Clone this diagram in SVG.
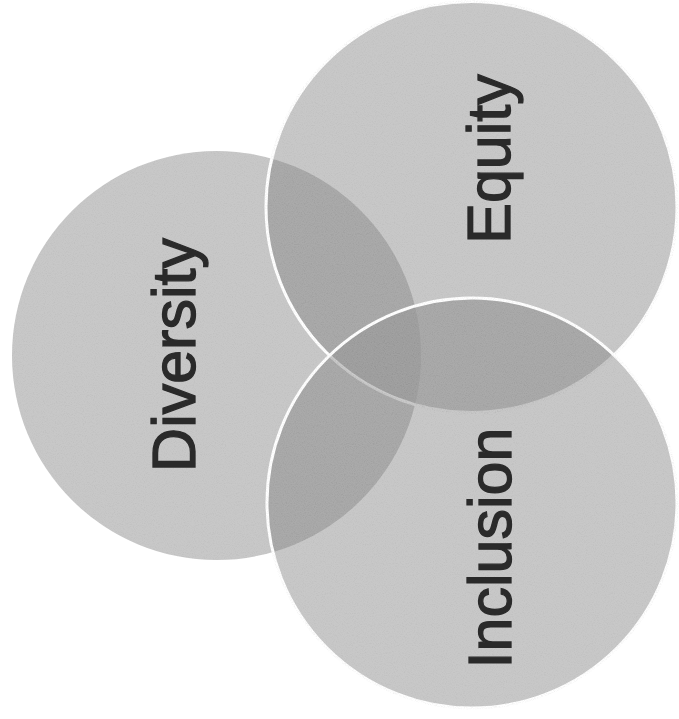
<svg xmlns="http://www.w3.org/2000/svg" width="679" height="719" viewBox="0 0 679 719">
  <style>
    .circ { fill: #868686; fill-opacity: 0.455; filter: url(#grain); }
    .edge { stroke: #ffffff; stroke-width: 3; }
    .label { font-family: "Liberation Sans", Arial, sans-serif; font-size: 61px; fill: #2a2a2a; stroke: #2a2a2a; stroke-width: 1.3; text-anchor: middle; }
  </style>
  <defs>
    <filter id="grain" x="-5%" y="-5%" width="110%" height="110%">
      <feTurbulence type="fractalNoise" baseFrequency="0.9" numOctaves="2" seed="7" result="noise"/>
      <feColorMatrix in="noise" type="matrix" values="0 0 0 0 0  0 0 0 0 0  0 0 0 0 0  0.3 0 0 0 -0.12" result="dark"/>
      <feComposite in="dark" in2="SourceGraphic" operator="in" result="darkIn"/>
      <feMerge>
        <feMergeNode in="SourceGraphic"/>
        <feMergeNode in="darkIn"/>
      </feMerge>
    </filter>
    <clipPath id="clipE"><circle cx="471.5" cy="207" r="205.5"/></clipPath>
    <clipPath id="clipI"><circle cx="472" cy="503" r="205"/></clipPath>
  </defs>
  <rect width="679" height="719" fill="#ffffff"/>
  <g id="diversity">
    <circle class="circ" cx="216.5" cy="355.5" r="204.5"/>
    <text class="label" transform="translate(195,355) rotate(-90)">Diversity</text>
  </g>
  <g id="equity">
    <circle class="circ edge" cx="471.5" cy="207" r="205.5"/>
    <text class="label" transform="translate(510,159) rotate(-90)">Equity</text>
  </g>
  <g id="inclusion">
    <circle class="circ edge" cx="472" cy="503" r="205"/>
    <text class="label" transform="translate(511,548) rotate(-90)">Inclusion</text>
  </g>
  <g id="center-overlap" clip-path="url(#clipE)">
    <circle cx="216.5" cy="355.5" r="204.5" fill="#ffffff" fill-opacity="0.07" clip-path="url(#clipI)"/>
  </g>
</svg>
